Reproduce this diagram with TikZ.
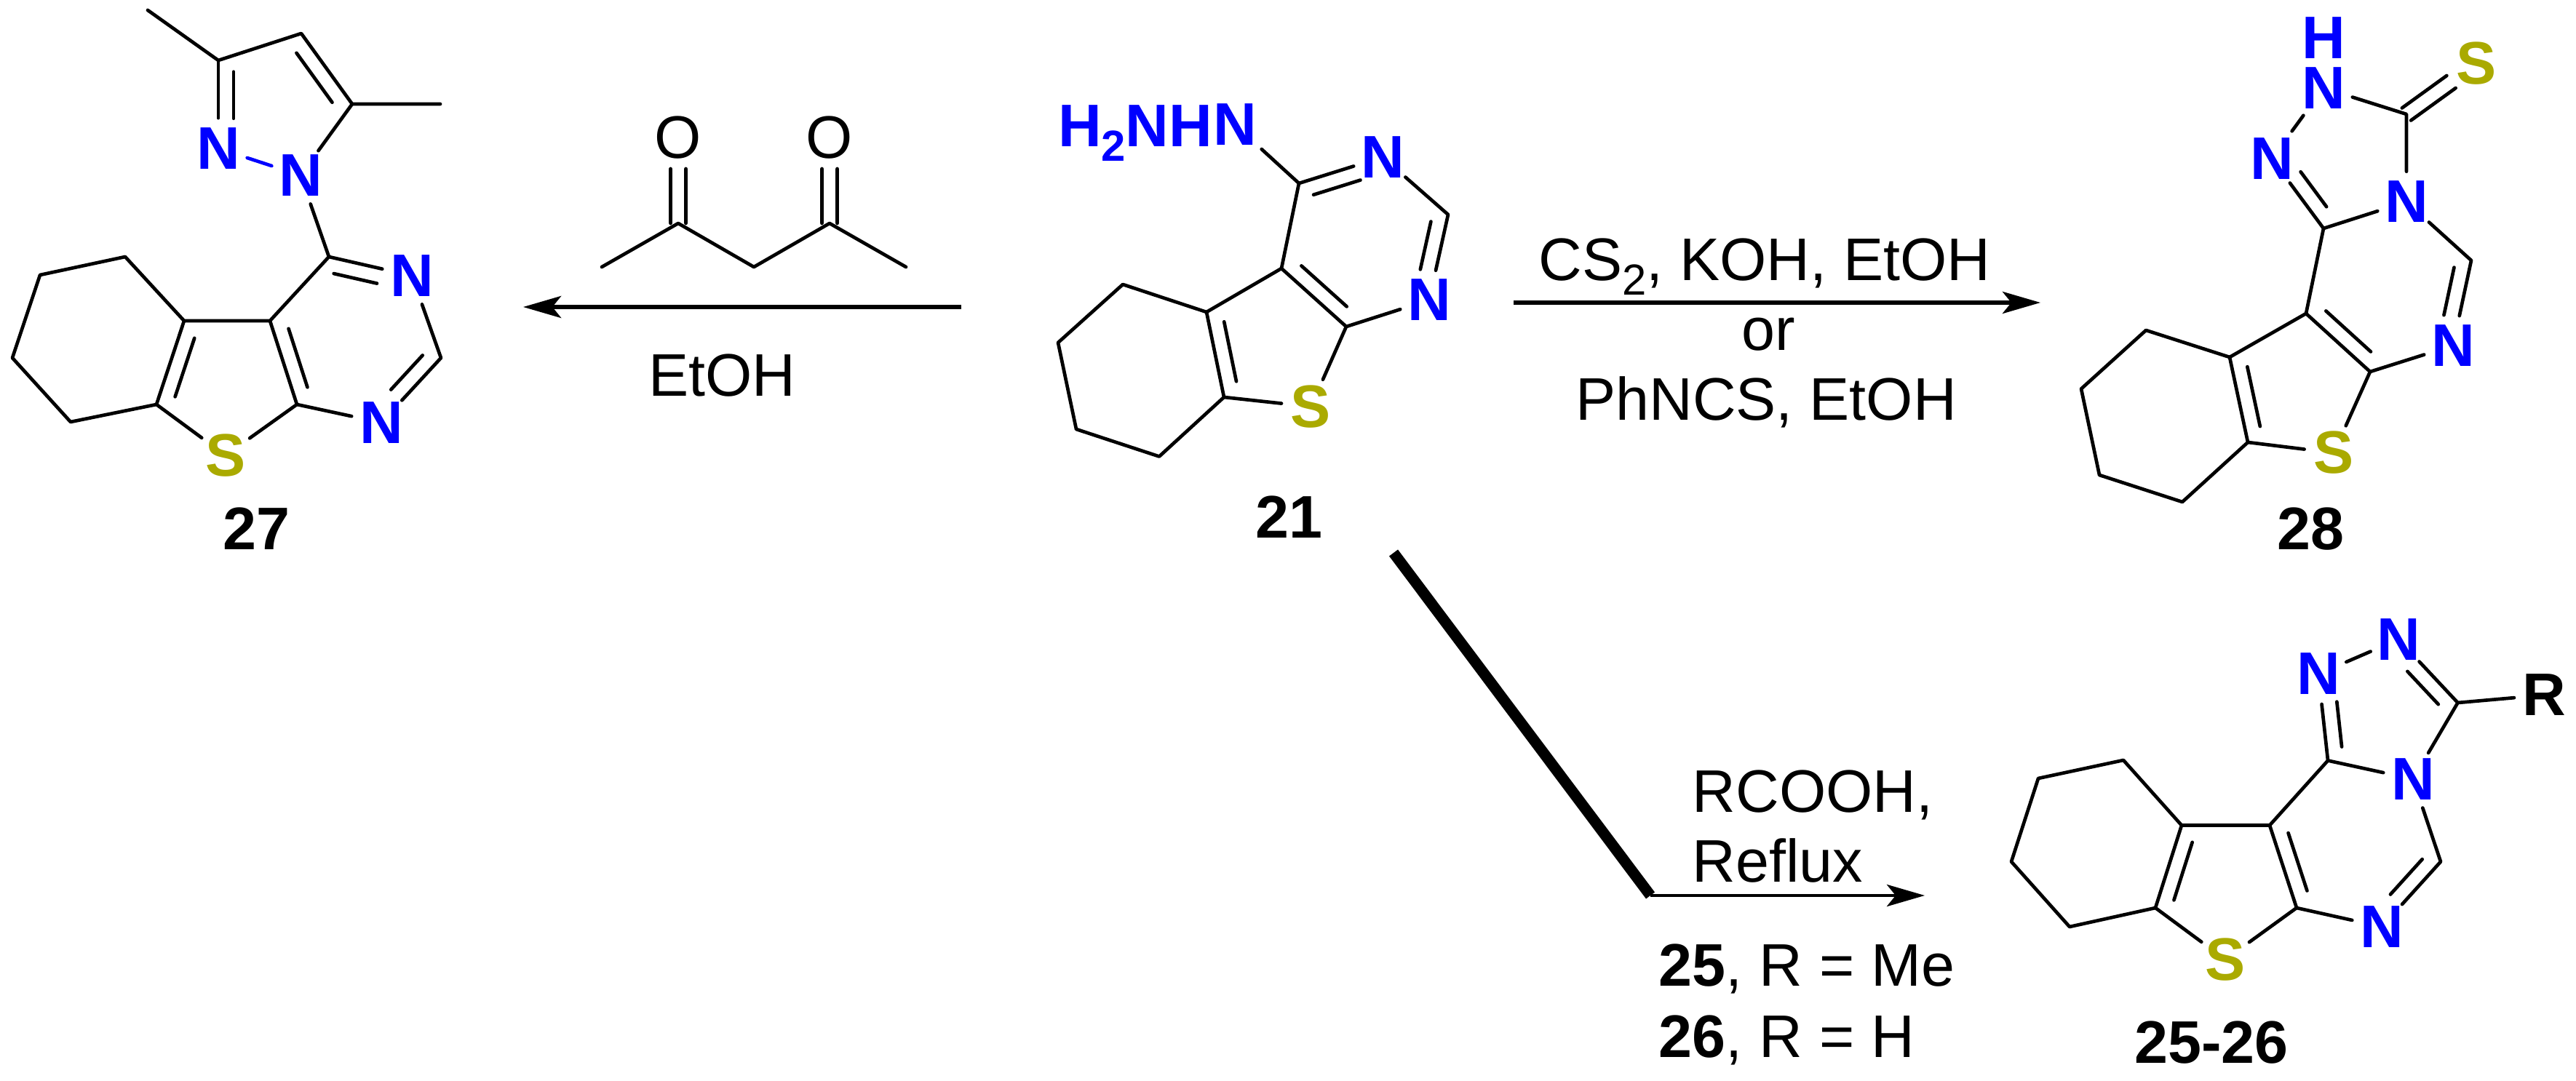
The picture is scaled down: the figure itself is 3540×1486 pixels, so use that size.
\documentclass[tikz,border=0pt]{standalone}
\usepackage{fontspec}
\setmainfont{Liberation Sans}
\usetikzlibrary{arrows.meta,calc}
\definecolor{nitrogen}{HTML}{0000FF}
\definecolor{sulphur}{HTML}{AAAA00}
\tikzset{
	bond/.style={line width=0.047cm, line cap=round, line join=round},
	atom/.style={circle, inner sep=0pt, font=\fontsize{23.5}{24}\selectfont\bfseries},
	nitro/.style={atom, color=nitrogen},
	sulf/.style={atom, color=sulphur},
	oxy/.style={atom, font=\fontsize{23.5}{24}\selectfont},
	tag/.style={inner sep=0pt, font=\fontsize{23.5}{24}\selectfont},
	nitrotag/.style={tag, color=nitrogen, font=\fontsize{23.5}{24}\selectfont\bfseries},
	rxn/.style={line width=0.055cm, -{Stealth[length=0.52cm,width=0.3cm,inset=0.12cm]}},
	rxnthin/.style={line width=0.048cm, -{Stealth[length=0.52cm,width=0.3cm,inset=0.12cm]}},
}
\newcommand{\subtwo}{\raisebox{-5.6pt}{\fontsize{17}{17}\selectfont 2}}
\def\innerbond[#1:#2:#3](#4)(#5){\draw[bond] ($(#4)!#1!(#5)!#3!90:(#5)$) -- ($(#4)!#2!(#5)!#3!90:(#5)$);}

\begin{document}
\begin{tikzpicture}[x=0.01cm, y=-0.01cm]
		%%%%% START %%%%%
		\useasboundingbox (0, 0) rectangle (3540, 1486);
		
		% compound 27
		\coordinate (me27a) at (203, 14);
		\coordinate (c27a) at (300, 83);
		\coordinate (c27b) at (414, 46);
		\coordinate (c27c) at (484, 143);
		\coordinate (me27b) at (605, 143);
		\coordinate (c27d) at (452, 353);
		\coordinate (c27e) at (606, 492);
		\coordinate (c27f) at (408, 556);
		\coordinate (c27g) at (371, 441);
		\coordinate (c27h) at (253, 441);
		\coordinate (c27i) at (215, 556);
		\coordinate (c27j) at (172, 353);
		\coordinate (c27k) at (55, 378);
		\coordinate (c27l) at (17, 492);
		\coordinate (c27m) at (97, 580);
		\node[nitro] (n27a) at (300, 204) {N};
		\node[nitro] (n27b) at (413, 241) {N};
		\node[nitro] (n27c) at (566, 379) {N};
		\node[nitro] (n27d) at (524, 581) {N};
		\node[sulf] (s27) at (310, 626) {S};
		\node[atom] (lab27) at (352.5, 727) {27};
		
		\draw[bond] (me27a) -- (c27a) -- (c27b) -- (c27c) -- (me27b);
		\draw[bond] (c27a) -- (n27a);
		\draw[bond] (c27c) -- (n27b);
		\draw[bond, color=nitrogen] (n27a) -- (n27b);
		\draw[bond] (n27b) -- (c27d);
		\draw[bond] (n27c) -- (c27d) -- (c27g) -- (c27f) -- (n27d);
		\draw[bond] (n27c) -- (c27e) -- (n27d);
		\draw[bond] (s27) -- (c27f);
		\draw[bond] (s27) -- (c27i) -- (c27h) -- (c27g);
		\draw[bond] (c27h) -- (c27j) -- (c27k) -- (c27l) -- (c27m) -- (c27i);
		\innerbond[0.13:0.66:0.21cm](c27a)(n27a)
		\innerbond[0.15:0.85:0.21cm](c27c)(c27b)
		\innerbond[0.1:0.62:-0.21cm](c27d)(n27c)
		\innerbond[0.12:0.65:-0.21cm](c27e)(n27d)
		\innerbond[0.15:0.85:0.21cm](c27g)(c27f)
		\innerbond[0.15:0.85:0.21cm](c27h)(c27i)
		
		% compound 21
		\coordinate (c21a) at (1785, 252);
		\coordinate (c21b) at (1990, 295);
		\coordinate (c21c) at (1850, 449);
		\coordinate (c21d) at (1761, 369);
		\coordinate (c21e) at (1658, 429);
		\coordinate (c21f) at (1682, 546);
		\coordinate (c21g) at (1543, 391);
		\coordinate (c21h) at (1454, 471);
		\coordinate (c21i) at (1479, 590);
		\coordinate (c21j) at (1593, 627.5);
		\node[nitro] (n21a) at (1697, 171.5) {N};
		\node[nitrotag, anchor=base east] (h21) at (1667, 202) {H\subtwo NH};
		\node[nitro] (n21b) at (1900, 216) {N};
		\node[nitro] (n21c) at (1964, 412.5) {N};
		\node[sulf] (s21) at (1801.5, 559) {S};
		\node[atom] (lab21) at (1771, 711) {21};
		
		\draw[bond, shorten <=0.08cm] (n21a) -- (c21a);
		\draw[bond] (n21b) -- (c21a) -- (c21d) -- (c21c) -- (n21c);
		\draw[bond] (n21b) -- (c21b) -- (n21c);
		\draw[bond] (s21) -- (c21c);
		\draw[bond] (s21) -- (c21f) -- (c21e) -- (c21d);
		\draw[bond] (c21e) -- (c21g) -- (c21h) -- (c21i) -- (c21j) -- (c21f);
		\innerbond[0.12:0.68:-0.21cm](c21a)(n21b)
		\innerbond[0.12:0.68:-0.21cm](c21b)(n21c)
		\innerbond[0.15:0.85:0.21cm](c21d)(c21c)
		\innerbond[0.15:0.85:0.21cm](c21e)(c21f)
		
		% compound 28
		\coordinate (c28a) at (3307, 157);
		\coordinate (c28b) at (3193, 314);
		\coordinate (c28c) at (3396, 358);
		\coordinate (c28d) at (3257, 511);
		\coordinate (c28e) at (3169, 431);
		\coordinate (c28f) at (3064, 491);
		\coordinate (c28g) at (3089, 608);
		\coordinate (c28h) at (2949, 454);
		\coordinate (c28i) at (2860, 534.5);
		\coordinate (c28j) at (2885, 653);
		\coordinate (c28k) at (2999, 690);
		\node[nitro] (h28) at (3193, 52) {H};
		\node[nitro] (n28a) at (3193, 121) {N};
		\node[nitro] (n28b) at (3122, 218) {N};
		\node[nitro] (n28c) at (3307, 277.5) {N};
		\node[nitro] (n28d) at (3371, 475) {N};
		\node[sulf] (s28a) at (3403, 87.5) {S};
		\node[sulf] (s28b) at (3207, 622.5) {S};
		\node[atom] (lab28) at (3175, 727) {28};
		
		\draw[bond, shorten >=0.05cm, shorten <=0.05cm] (n28b) -- (n28a);
		\draw[bond] (n28a) -- (c28a) -- (n28c);
		\draw[bond] (n28b) -- (c28b) -- (n28c);
		\draw[bond] (c28b) -- (c28e);
		\draw[bond] (n28c) -- (c28c) -- (n28d);
		\draw[bond] (n28d) -- (c28d) -- (c28e) -- (c28f);
		\draw[bond] (s28b) -- (c28d);
		\draw[bond] (s28b) -- (c28g) -- (c28f);
		\draw[bond] (c28f) -- (c28h) -- (c28i) -- (c28j) -- (c28k) -- (c28g);
		\innerbond[0:0.64:0.105cm](c28a)(s28a)
		\innerbond[0:0.64:-0.105cm](c28a)(s28a)
		\innerbond[0.18:0.68:-0.21cm](c28b)(n28b)
		\innerbond[0.12:0.68:-0.21cm](c28c)(n28d)
		\innerbond[0.15:0.85:0.21cm](c28e)(c28d)
		\innerbond[0.15:0.85:0.21cm](c28f)(c28g)
		
		% compound 25-26
		\coordinate (c25a) at (3377.5, 966);
		\coordinate (c25b) at (3199, 1045.5);
		\coordinate (c25c) at (3354, 1184.5);
		\coordinate (c25d) at (3156, 1248);
		\coordinate (c25e) at (3119, 1134.5);
		\coordinate (c25f) at (2998, 1134.5);
		\coordinate (c25g) at (2962, 1248);
		\coordinate (c25h) at (2918, 1045);
		\coordinate (c25i) at (2801, 1070);
		\coordinate (c25j) at (2764, 1184.5);
		\coordinate (c25k) at (2844, 1274);
		\node[nitro] (n25a) at (3186, 926.5) {N};
		\node[nitro] (n25b) at (3296, 879) {N};
		\node[nitro] (n25c) at (3316, 1071) {N};
		\node[nitro] (n25d) at (3273, 1274) {N};
		\node[sulf] (s25) at (3058, 1319) {S};
		\node[atom] (r25) at (3496.5, 955.5) {R};
		\node[atom] (lab25) at (3039, 1433) {25-26};
		
		\draw[bond] (n25a) -- (n25b);
		\draw[bond] (n25b) -- (c25a) -- (n25c);
		\draw[bond] (c25a) -- (r25);
		\draw[bond] (n25a) -- (c25b) -- (n25c);
		\draw[bond] (c25b) -- (c25e);
		\draw[bond] (n25c) -- (c25c) -- (n25d);
		\draw[bond] (n25d) -- (c25d) -- (c25e) -- (c25f);
		\draw[bond] (s25) -- (c25d);
		\draw[bond] (s25) -- (c25g) -- (c25f);
		\draw[bond] (c25f) -- (c25h) -- (c25i) -- (c25j) -- (c25k) -- (c25g);
		\innerbond[0.14:0.66:-0.21cm](c25b)(n25a)
		\innerbond[0.14:0.66:0.21cm](c25a)(n25b)
		\innerbond[0.12:0.66:-0.21cm](c25c)(n25d)
		\innerbond[0.15:0.85:0.21cm](c25e)(c25d)
		\innerbond[0.15:0.85:0.21cm](c25f)(c25g)
		
		% reagent above left arrow
		\coordinate (me1) at (827, 367);
		\coordinate (co1) at (932, 307);
		\coordinate (ch2) at (1036, 367);
		\coordinate (co2) at (1140, 307);
		\coordinate (me2) at (1245, 367);
		\node[oxy] (o1) at (932, 189) {O};
		\node[oxy] (o2) at (1140, 189) {O};
		\draw[bond] (me1) -- (co1) -- (ch2) -- (co2) -- (me2);
		\innerbond[0:0.636:0.105cm](co1)(o1)
		\innerbond[0:0.636:-0.105cm](co1)(o1)
		\innerbond[0:0.636:0.105cm](co2)(o2)
		\innerbond[0:0.636:-0.105cm](co2)(o2)
		
		% arrows
		\coordinate (left1) at (1321, 422);
		\coordinate (left2) at (719, 422);
		\draw[rxn] (left1) -- (left2);
		\coordinate (right1) at (2080, 416);
		\coordinate (right2) at (2804, 416);
		\draw[rxn] (right1) -- (right2);
		\coordinate (down1) at (1915, 760);
		\coordinate (down2) at (2268, 1231);
		\coordinate (down3) at (2645, 1231);
		\draw[line width=0.15cm] (down1) -- (down2);
		\draw[rxnthin] (down2) -- (down3);
		
		% reaction conditions
		\node[tag, anchor=base] (etoh) at (992.5, 545) {EtOH};
		\node[tag, anchor=base] (cs) at (2425, 386) {CS\subtwo, KOH, EtOH};
		\node[tag, anchor=base] (or) at (2430, 482) {or};
		\node[tag, anchor=base] (phncs) at (2427, 578) {PhNCS, EtOH};
		\node[tag, anchor=base west] (rcooh) at (2325, 1116) {RCOOH,};
		\node[tag, anchor=base west] (reflux) at (2325, 1212) {Reflux};
		\node[tag, anchor=base west] (r25me) at (2279, 1355) {\textbf{25}, R = Me};
		\node[tag, anchor=base west] (r26h) at (2279, 1453) {\textbf{26}, R = H};
		
		%%%%% END %%%%%
	\end{tikzpicture}
\end{document}
